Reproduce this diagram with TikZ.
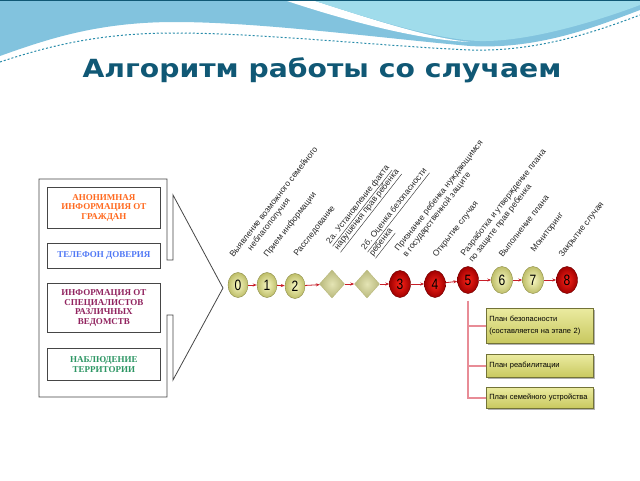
\documentclass[tikz,border=0pt]{standalone}
\usepackage{fontspec}
\setmainfont{Liberation Serif}
\newfontfamily\titlefont[FakeStretch=1.13]{DejaVu Sans}
\newfontfamily\labelfont{Liberation Sans}
\newfontfamily\numfont[FakeStretch=0.8]{Liberation Sans}
\usetikzlibrary{shapes.geometric, arrows.meta, positioning, calc, shadows}
\definecolor{titleblue}{RGB}{16, 88, 117}
\definecolor{wavetop}{RGB}{130, 195, 222}
\definecolor{wavelight}{RGB}{160, 220, 235}
\definecolor{wavedot}{RGB}{40, 140, 170}
\definecolor{panelgray}{RGB}{70, 70, 70}
\definecolor{anonorange}{RGB}{255, 105, 30}
\definecolor{phoneblue}{RGB}{80, 120, 245}
\definecolor{expertplum}{RGB}{145, 35, 95}
\definecolor{watchgreen}{RGB}{45, 150, 100}
\definecolor{ylwin}{RGB}{248, 248, 195}
\definecolor{ylwout}{RGB}{190, 190, 105}
\definecolor{ylwedge}{RGB}{140, 140, 70}
\definecolor{redin}{RGB}{250, 35, 25}
\definecolor{redout}{RGB}{160, 0, 0}
\definecolor{rededge}{RGB}{110, 0, 0}
\definecolor{gatein}{RGB}{228, 228, 180}
\definecolor{gateout}{RGB}{185, 185, 125}
\definecolor{flowred}{RGB}{200, 30, 40}
\definecolor{labelgray}{RGB}{40, 40, 40}
\definecolor{planlight}{RGB}{235, 235, 160}
\definecolor{plandark}{RGB}{200, 200, 95}
\definecolor{planedge}{RGB}{115, 115, 55}
\definecolor{branchpink}{RGB}{232, 140, 150}

\begin{document}
\begin{tikzpicture}[x=1pt, y=-1pt,
    srcbox/.style={draw=panelgray, line width=0.8pt, anchor=north west, minimum width=113pt,
      inner sep=2pt, align=center, font=\bfseries\fontsize{9}{9.8}\selectfont},
    yellowstage/.style={ellipse, inner sep=0pt, minimum width=20pt, minimum height=25pt,
      draw=ylwedge, line width=0.4pt, shading=radial, inner color=ylwin, outer color=ylwout,
      font=\numfont\fontsize{15}{15}\selectfont},
    redstage/.style={yellowstage, minimum width=21pt, minimum height=27pt, draw=rededge,
      inner color=redin, outer color=redout},
    gatestage/.style={diamond, inner sep=0pt, minimum width=25pt, minimum height=28pt,
      draw=gateout, line width=0.4pt, shading=radial, inner color=gatein, outer color=gateout},
    flow/.style={draw=flowred, line width=0.8pt, -{Stealth[length=4pt, width=3pt]}},
    steplabel/.style={rotate=52, anchor=south west, inner sep=0pt, align=left, text=labelgray,
      font=\labelfont\fontsize{8.5}{10}\selectfont},
    planbox/.style={draw=planedge, line width=0.6pt, top color=planlight, bottom color=plandark,
      anchor=north west, text width=101pt, inner xsep=3pt, inner ysep=0pt, align=left,
      font=\labelfont\fontsize{7.5}{12}\selectfont,
      drop shadow={shadow xshift=1.5pt, shadow yshift=-1.5pt, fill=black, opacity=0.3}},
    branch/.style={draw=branchpink, line width=1.4pt}]
  \useasboundingbox (0,0) rectangle (640,480);
  \fill[white] (0,0) rectangle (640,480);

  % Top wave
  \fill[wavetop] (0,0) -- (640,0) -- (640,10) .. controls (600,25) and (540,50) .. (470,46)
    .. controls (380,38) and (260,22) .. (175,22) .. controls (100,22) and (50,38) .. (0,56) -- cycle;
  \fill[white] (284,0) -- (312,0) .. controls (380,22) and (430,38) .. (470,42)
    .. controls (420,40) and (350,22) .. (284,0) -- cycle;
  \fill[wavelight] (312,0) -- (640,0) -- (640,5) .. controls (600,20) and (530,42) .. (480,41)
    .. controls (440,40) and (380,22) .. (312,0) -- cycle;
  \draw[wavedot, line width=1pt, dash pattern=on 2pt off 2pt] (0,62) .. controls (60,42) and (110,33) .. (175,33)
    .. controls (260,33) and (380,46) .. (470,50) .. controls (540,52) and (600,30) .. (640,15);
  \draw[titleblue, line width=1pt] (0,0.5) -- (640,0.5);

  % Title
  \node[anchor=base, text=titleblue, font=\titlefont\bfseries\fontsize{25}{25}\selectfont] (title)
    at (322,77) {Алгоритм работы со случаем};

  % Sources panel with arrow
  \draw[panelgray, line width=0.8pt] (39,179) -- (167,179) -- (167,260) -- (173,260) -- (173,195)
    -- (223,288) -- (173,380) -- (173,315) -- (167,315) -- (167,397) -- (39,397) -- cycle;
  \node[srcbox, minimum height=41pt, text=anonorange] (anon) at (47,187) {АНОНИМНАЯ\\ИНФОРМАЦИЯ ОТ\\ГРАЖДАН};
  \node[srcbox, minimum height=25pt, text=phoneblue] (phone) at (47,243) {ТЕЛЕФОН ДОВЕРИЯ};
  \node[srcbox, minimum height=49pt, text=expertplum] (expert) at (47,283) {ИНФОРМАЦИЯ ОТ\\СПЕЦИАЛИСТОВ\\РАЗЛИЧНЫХ\\ВЕДОМСТВ};
  \node[srcbox, minimum height=32pt, text=watchgreen] (watch) at (47,348) {НАБЛЮДЕНИЕ\\ТЕРРИТОРИИ};

  % Stages
  \node[yellowstage] (e0) at (238,285) {0};
  \node[yellowstage] (e1) at (267,285) {1};
  \node[yellowstage] (e2) at (295,286) {2};
  \node[gatestage] (d1) at (332,284) {};
  \node[gatestage] (d2) at (367,284) {};
  \node[redstage] (e3) at (400,284) {3};
  \node[redstage] (e4) at (435,284) {4};
  \node[redstage] (e5) at (468,280) {5};
  \node[yellowstage, minimum width=21pt, minimum height=27pt] (e6) at (502,280) {6};
  \node[yellowstage, minimum width=21pt, minimum height=27pt] (e7) at (533,280) {7};
  \node[redstage] (e8) at (567,280) {8};
  \foreach \a/\b in {e0/e1, e1/e2, e2/d1, d1/d2, d2/e3, e3/e4, e4/e5, e5/e6, e6/e7, e7/e8}
    \draw[flow] (\a) -- (\b);

  % Stage labels
  \node[steplabel] (l0) at (243,265) {Выявление возможного семейного\\\hspace*{16pt}неблагополучия};
  \node[steplabel] (l1) at (269,259) {Прием информации};
  \node[steplabel] (l2) at (299,258) {Расследование};
  \node[steplabel] (l2a) at (341,253) {\underline{2а. Установление факта}\\\underline{нарушения прав ребенка}};
  \node[steplabel] (l2b) at (376,259) {\underline{2б. Оценка безопасности}\\\underline{ребенка}};
  \node[steplabel] (l3) at (408,259) {Признание ребенка нуждающимся\\в государственной защите};
  \node[steplabel] (l4) at (438,259) {Открытие случая};
  \node[steplabel] (l5) at (474,264) {Разработка и утверждение плана\\по защите прав ребенка};
  \node[steplabel] (l6) at (503,258) {Выполнение плана};
  \node[steplabel] (l7) at (536,254) {Мониторинг};
  \node[steplabel] (l8) at (564,259) {Закрытие случая};

  % Plans
  \node[planbox, minimum height=35pt] (p1) at (486,308) {План безопасности\\(составляется на этапе 2)};
  \node[planbox, minimum height=23pt] (p2) at (486,354) {План реабилитации};
  \node[planbox, minimum height=21pt] (p3) at (486,387) {План семейного устройства};
  \coordinate (trunk) at ($(e5.south)+(0,7)$);
  \draw[branch] (trunk) -- (trunk |- p3.west) -- (p3.west);
  \draw[branch] (trunk |- p1.west) -- (p1.west);
  \draw[branch] (trunk |- p2.west) -- (p2.west);
\end{tikzpicture}
\end{document}
